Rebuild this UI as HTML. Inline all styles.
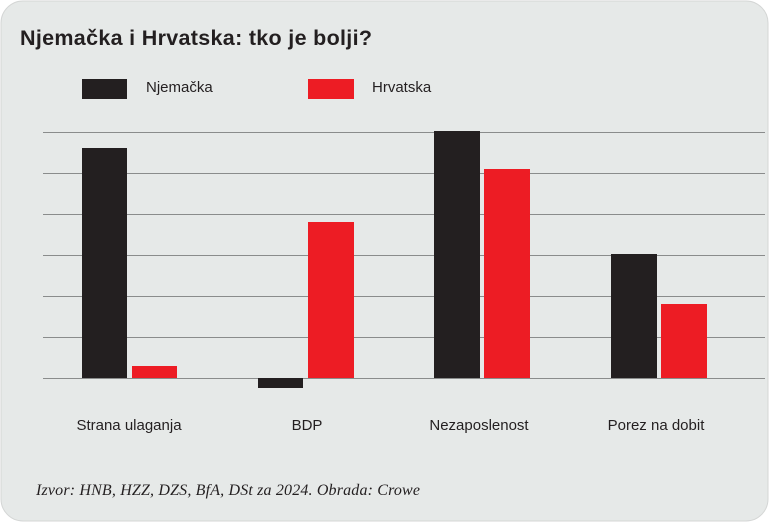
<!DOCTYPE html>
<html><head><meta charset="utf-8"><style>
body{margin:0;background:#fff;}
svg{display:block;}
</style></head><body>
<svg width="769" height="522" xmlns="http://www.w3.org/2000/svg" font-family="Liberation Sans, sans-serif">
<rect x="1" y="1" width="767" height="520" rx="22" fill="#e6e9e8" stroke="#d4d6d5"/>
<text x="20" y="45" font-size="21.5" font-weight="bold" fill="#231f20" textLength="352">Njemačka i Hrvatska: tko je bolji?</text>
<rect x="82" y="79" width="45" height="20" fill="#231f20"/>
<text x="146" y="92" font-size="15" fill="#231f20">Njemačka</text>
<rect x="308" y="79" width="46" height="20" fill="#ed1c24"/>
<text x="372" y="92" font-size="15" fill="#231f20">Hrvatska</text>
<g stroke="#8a8c8c" stroke-width="1">
<line x1="43" x2="765" y1="132.5" y2="132.5"/>
<line x1="43" x2="765" y1="173.5" y2="173.5"/>
<line x1="43" x2="765" y1="214.5" y2="214.5"/>
<line x1="43" x2="765" y1="255.5" y2="255.5"/>
<line x1="43" x2="765" y1="296.5" y2="296.5"/>
<line x1="43" x2="765" y1="337.5" y2="337.5"/>
<line x1="43" x2="765" y1="378.5" y2="378.5"/>
</g>
<g fill="#231f20">
<rect x="82" y="148" width="45" height="230"/>
<rect x="258" y="378" width="45" height="10"/>
<rect x="434" y="131" width="46" height="247"/>
<rect x="611" y="254" width="46" height="124"/>
</g>
<g fill="#ed1c24">
<rect x="132" y="366" width="45" height="12"/>
<rect x="308" y="222" width="46" height="156"/>
<rect x="484" y="169" width="46" height="209"/>
<rect x="661" y="304" width="46" height="74"/>
</g>
<g font-size="15" fill="#231f20" text-anchor="middle">
<text x="129" y="430">Strana ulaganja</text>
<text x="307" y="430">BDP</text>
<text x="479" y="430">Nezaposlenost</text>
<text x="656" y="430">Porez na dobit</text>
</g>
<text x="36" y="495" font-size="16" font-style="italic" font-family="Liberation Serif, serif" fill="#231f20" textLength="384">Izvor: HNB, HZZ, DZS, BfA, DSt za 2024. Obrada: Crowe</text>
</svg>
</body></html>
